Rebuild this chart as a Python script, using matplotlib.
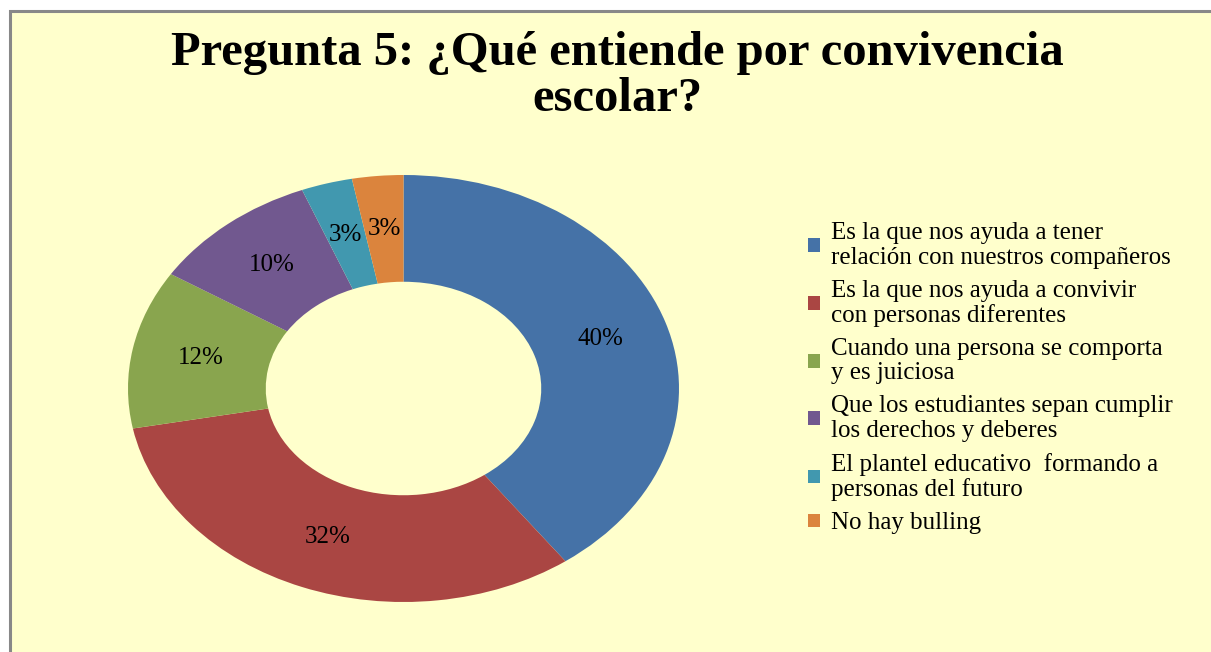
import matplotlib.pyplot as plt
from matplotlib.patches import Rectangle

# datos de la pregunta 5
categorias = [
    "Es la que nos ayuda a tener\nrelación con nuestros compañeros",
    "Es la que nos ayuda a convivir\ncon personas diferentes",
    "Cuando una persona se comporta\ny es juiciosa",
    "Que los estudiantes sepan cumplir\nlos derechos y deberes",
    "El plantel educativo  formando a\npersonas del futuro",
    "No hay bulling",
]
porcentajes = [40, 32, 12, 10, 3, 3]
colores = ["#4572A7", "#AA4643", "#89A54E", "#71588F", "#4198AF", "#DB843D"]

plt.rcParams['font.family'] = ['Liberation Serif', 'DejaVu Serif']

fig = plt.figure(figsize=(12.11, 6.52), dpi=100)
fig.patch.set_facecolor("white")

# fondo amarillo con borde gris
W, H = 1211, 652
fondo = Rectangle((10 / W, -0.05), 1.1, 1 - 11 / H + 0.05, transform=fig.transFigure,
                  facecolor="#FFFFCC", edgecolor="#888888", linewidth=2.2, zorder=-10)
fig.patches.append(fondo)

fig.text(617 / W, 1 - 76 / H, "Pregunta 5: ¿Qué entiende por convivencia\nescolar?",
         ha="center", va="center", fontsize=35, fontweight="bold", linespacing=1.08)

ax = fig.add_axes([128 / W, 50 / H, 551 / W, 427 / H])
wedges, textos = ax.pie(porcentajes, colors=colores, startangle=90, counterclock=False,
                        radius=1, wedgeprops=dict(width=0.5, edgecolor="none"),
                        labels=[f"{p}%" for p in porcentajes], labeldistance=0.75,
                        textprops=dict(fontsize=18, ha="center", va="center"))
ax.set_aspect("auto")
ax.set_xlim(-1, 1)
ax.set_ylim(-1, 1)
ax.axis("off")

leg = fig.legend(wedges, categorias, loc="upper left", bbox_to_anchor=(786 / W, 1 - 200 / H),
                 frameon=False, fontsize=18, handlelength=0.45, handleheight=0.45,
                 handletextpad=0.45, labelspacing=0.45)
for t in leg.get_texts():
    t.set_linespacing(1.12)

fig.savefig("out.png", dpi=100, facecolor=fig.get_facecolor())
